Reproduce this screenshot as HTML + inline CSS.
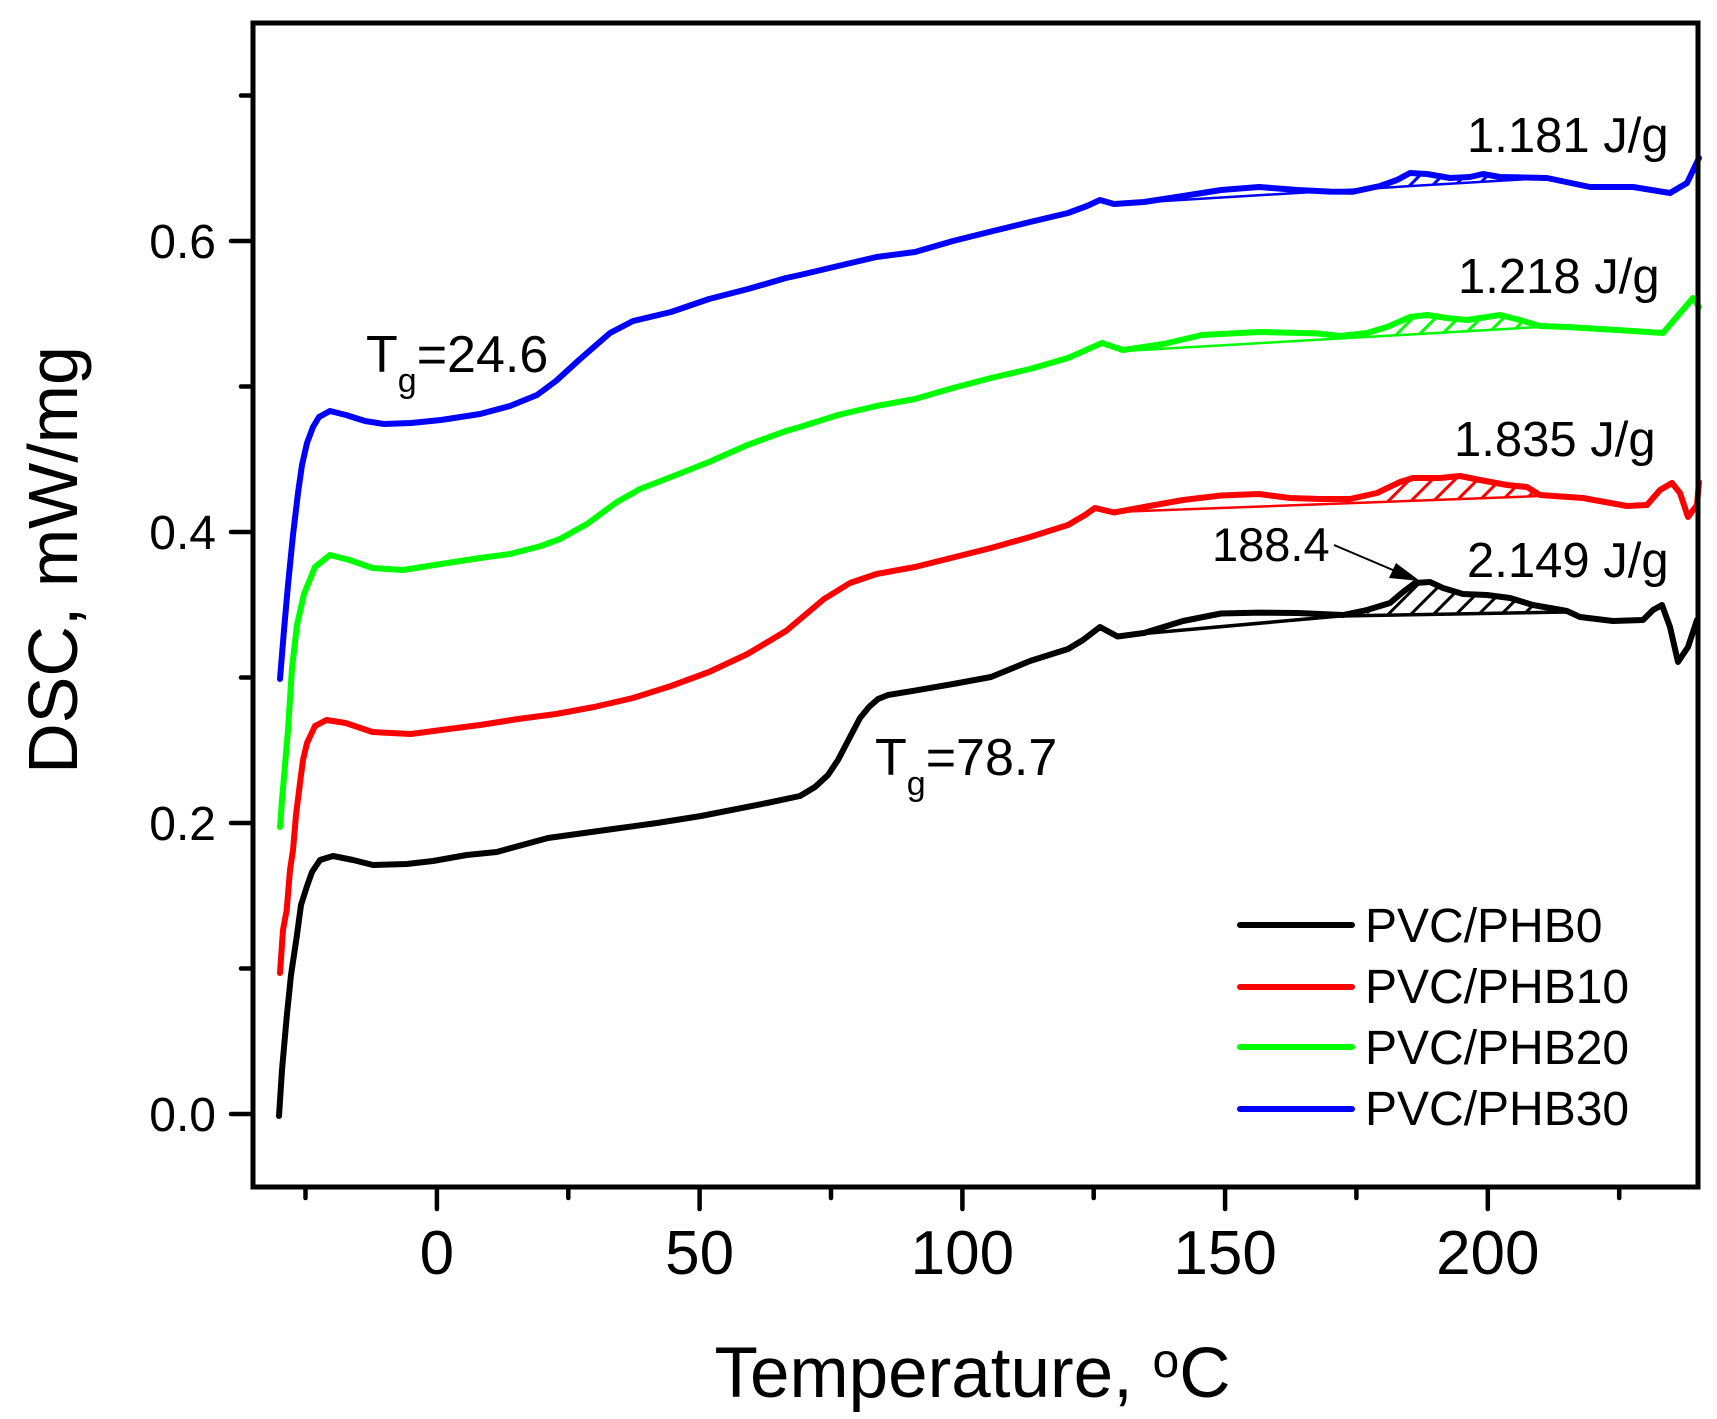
<!DOCTYPE html>
<html>
<head>
<meta charset="utf-8">
<style>
  html, body { margin: 0; padding: 0; background: #ffffff; }
  svg { display: block; }
  text { font-family: "Liberation Sans", Arial, sans-serif; fill: #000; }
</style>
</head>
<body>
<svg width="1717" height="1419" viewBox="0 0 1717 1419" xmlns="http://www.w3.org/2000/svg">
  <defs>
    <pattern id="hK" patternUnits="userSpaceOnUse" width="16" height="16" patternTransform="rotate(45)">
      <line x1="8" y1="0" x2="8" y2="16" stroke="#000" stroke-width="3"/>
    </pattern>
    <pattern id="hR" patternUnits="userSpaceOnUse" width="16" height="16" patternTransform="rotate(45)">
      <line x1="8" y1="0" x2="8" y2="16" stroke="#ff0000" stroke-width="3"/>
    </pattern>
    <pattern id="hG" patternUnits="userSpaceOnUse" width="16" height="16" patternTransform="rotate(45)">
      <line x1="8" y1="0" x2="8" y2="16" stroke="#00ff00" stroke-width="3"/>
    </pattern>
    <pattern id="hB" patternUnits="userSpaceOnUse" width="16" height="16" patternTransform="rotate(45)">
      <line x1="8" y1="0" x2="8" y2="16" stroke="#0000ff" stroke-width="3"/>
    </pattern>
  </defs>

  <rect x="0" y="0" width="1717" height="1419" fill="#fff"/>

  <!-- hatched areas -->
  <polygon fill="url(#hK)" points="1367,612 1390,603 1403,592 1415,583 1430,582 1443,588 1463,594 1487,595 1510,598 1533,605 1560,611 1560,613 1367,615"/>
  <polygon fill="url(#hR)" points="1377,493 1400,482 1413,478 1440,478 1460,476 1480,480 1507,485 1527,487 1540,495 1540,496 1377,501"/>
  <polygon fill="url(#hG)" points="1387,327 1410,317 1427,315 1447,318 1467,320 1487,317 1500,315 1520,320 1540,326 1540,327 1387,336"/>
  <polygon fill="url(#hB)" points="1385,184 1397,180 1410,173 1427,174 1450,178 1470,177 1483,174 1500,177 1530,178 1545,178 1385,187"/>

  <!-- baselines -->
  <g fill="none" stroke-width="2.5" stroke-linecap="round">
    <polyline stroke="#000" stroke-width="3.5" points="1117,636 1340,616 1567,612"/>
    <polyline stroke="#ff0000" points="1114,512 1540,496"/>
    <polyline stroke="#00ff00" points="1123,351 1540,327"/>
    <polyline stroke="#0000ff" points="1114,204 1545,178"/>
  </g>

  <!-- curves -->
  <g fill="none" stroke-width="6" stroke-linejoin="round" stroke-linecap="round">
    <polyline stroke="#0000ff" points="280,679 284,630 288,585 293,535 298,493 302,465 307,443 313,427 319,417 330,411 346,415 365,421 384,424 411,423 441,420 480,414 510,406 537,395 556,381 579,360 610,333 633,321 671,312 709,299 748,289 786,278 800,275 838,266 876.5,257 915,252 953,241 991,231.5 1030,222 1068,213 1087,206 1100,200 1114,204 1144,202 1183,196 1221,190 1259,187 1297.5,190 1330,191.6 1353,191.7 1380,186 1397,180 1410,173 1427,174 1450,178 1470,177 1483,174 1500,177 1547,178 1590,187 1633,187 1670,193 1687,183 1699,158"/>
    <polyline stroke="#00ff00" points="280,827 282,800 285,765 288,730 292,668 297,625 304,594 315,567 330,555 349.5,560 372.5,568 403,570 441,564 480,558 510,554 541,546 560,539 587,524 617,502 640,489 671,477 709,462 747.5,445 786,431 800,427 838,415 876.5,406 915,399 953,388 991,378 1030,369 1068,358 1102,343 1123,350 1163.5,344 1202,335 1259,332 1316.6,333.4 1340,336 1367,333 1387,327 1410,317 1427,315 1447,318 1467,320 1487,317 1500,315 1520,320 1540,326 1567,327 1600,329 1633,331 1663,333 1693,298 1699,307"/>
    <polyline stroke="#ff0000" points="280,973 283,930 286.7,910 290,870 293,850 296,815 300,783 303,760 307,743 315,726 326.5,720 345.7,723 372.5,732 411,734 441,730 480,725 518,719 556,714 594,707 633,698 671,686 709,672 747.5,654 786,631 824,599 850,583 876.5,574 915,567 953,557.5 991,548 1030,537 1068,525 1085,515 1095,508 1114,512.5 1144,507 1183,500 1221,495.5 1259,494 1290,498 1320,499 1350,499 1377,493 1400,482 1413,478 1440,478 1460,476 1480,480 1507,485 1527,487 1540,495 1583,498 1627,506 1647,505 1660,490 1672,483 1680,493 1688,517 1697,505 1699,482"/>
    <polyline stroke="#000000" points="279,1116 282,1070 286.7,1017 291,975 296.7,937 301,905 306.7,887 312,872 320,860 333,856 353,860 373,865 406.7,864 433,861 466.7,855 496.7,852 548,838 613,829 657,823 701,816 767,803 800,796 815,787 828,775 838,760 850,737 860,718 869,707 878,699 888,695 915,690.6 953,684 991,677 1030,661 1068,649 1083,640 1100,627 1117.6,636.5 1144,633 1183,621 1221,613.5 1259,612.6 1297.5,613 1343,615 1367,610 1390,603 1403,592 1415,583 1430,582 1443,588 1463,594 1487,595 1510,598 1533,605 1567,611 1580,617 1613,621 1643,620 1653,610 1662,605 1670,627 1678,662 1688,647 1697,620"/>
  </g>

  <!-- axes frame -->
  <rect x="253" y="23" width="1445" height="1164" fill="none" stroke="#000" stroke-width="5"/>

  <!-- ticks -->
  <g stroke="#000" stroke-width="4.5" stroke-linecap="round">
    <line x1="436.9" y1="1187" x2="436.9" y2="1209"/>
    <line x1="699.6" y1="1187" x2="699.6" y2="1209"/>
    <line x1="962.4" y1="1187" x2="962.4" y2="1209"/>
    <line x1="1225.1" y1="1187" x2="1225.1" y2="1209"/>
    <line x1="1487.8" y1="1187" x2="1487.8" y2="1209"/>
    <line x1="305.5" y1="1187" x2="305.5" y2="1198"/>
    <line x1="568.3" y1="1187" x2="568.3" y2="1198"/>
    <line x1="831" y1="1187" x2="831" y2="1198"/>
    <line x1="1093.7" y1="1187" x2="1093.7" y2="1198"/>
    <line x1="1356.4" y1="1187" x2="1356.4" y2="1198"/>
    <line x1="1619.2" y1="1187" x2="1619.2" y2="1198"/>
    <line x1="253" y1="1114" x2="231" y2="1114"/>
    <line x1="253" y1="823" x2="231" y2="823"/>
    <line x1="253" y1="532" x2="231" y2="532"/>
    <line x1="253" y1="241" x2="231" y2="241"/>
    <line x1="253" y1="968.5" x2="241" y2="968.5"/>
    <line x1="253" y1="677.5" x2="241" y2="677.5"/>
    <line x1="253" y1="386.5" x2="241" y2="386.5"/>
    <line x1="253" y1="95.5" x2="241" y2="95.5"/>
  </g>

  <!-- x tick labels -->
  <g font-size="62" text-anchor="middle">
    <text x="436.9" y="1274">0</text>
    <text x="699.6" y="1274">50</text>
    <text x="962.4" y="1274">100</text>
    <text x="1225.1" y="1274">150</text>
    <text x="1487.8" y="1274">200</text>
  </g>

  <!-- y tick labels -->
  <g font-size="48" text-anchor="end">
    <text x="216" y="1131">0.0</text>
    <text x="216" y="840">0.2</text>
    <text x="216" y="549">0.4</text>
    <text x="216" y="258">0.6</text>
  </g>

  <!-- axis titles -->
  <text x="714.5" y="1397" font-size="71">Temperature, <tspan font-size="48" dy="-20">o</tspan><tspan font-size="71" dy="20">C</tspan></text>
  <text transform="translate(77,560) rotate(-90)" font-size="70" text-anchor="middle">DSC, mW/mg</text>

  <!-- annotations -->
  <text x="366" y="372" font-size="52">T<tspan font-size="34" dy="20">g</tspan><tspan font-size="52" dy="-20">=24.6</tspan></text>
  <text x="875" y="775" font-size="52">T<tspan font-size="34" dy="20">g</tspan><tspan font-size="52" dy="-20">=78.7</tspan></text>

  <text x="1212" y="561" font-size="47">188.4</text>
  <line x1="1334" y1="545" x2="1400" y2="573" stroke="#000" stroke-width="2"/>
  <polygon points="1420,581 1389,578 1396,563" fill="#000"/>

  <text x="1467" y="152" font-size="49">1.181 J/g</text>
  <text x="1458" y="293" font-size="49">1.218 J/g</text>
  <text x="1454" y="456" font-size="49">1.835 J/g</text>
  <text x="1467" y="577" font-size="49">2.149 J/g</text>

  <!-- legend -->
  <g stroke-width="6" stroke-linecap="round">
    <line x1="1240" y1="925" x2="1352" y2="925" stroke="#000"/>
    <line x1="1240" y1="987" x2="1352" y2="987" stroke="#ff0000"/>
    <line x1="1240" y1="1047" x2="1352" y2="1047" stroke="#00ff00"/>
    <line x1="1240" y1="1109" x2="1352" y2="1109" stroke="#0000ff"/>
  </g>
  <g font-size="48">
    <text x="1365" y="942">PVC/PHB0</text>
    <text x="1365" y="1003">PVC/PHB10</text>
    <text x="1365" y="1064">PVC/PHB20</text>
    <text x="1365" y="1125">PVC/PHB30</text>
  </g>
</svg>
</body>
</html>
